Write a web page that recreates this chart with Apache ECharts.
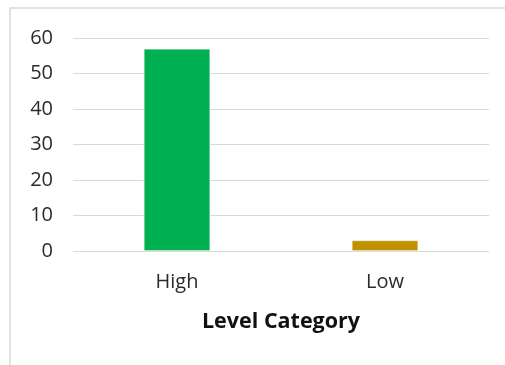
<!DOCTYPE html>
<html>
<head>
<meta charset="utf-8">
<script src="https://cdn.jsdelivr.net/npm/echarts@6/dist/echarts.min.js"></script>
<style>
  html, body { margin: 0; padding: 0; background: #fff; }
  #chart { width: 505px; height: 365px; }
</style>
</head>
<body>
<div id="chart"></div>
<script type="text/javascript">
// data
var categories = ['High', 'Low'];
var counts = [57, 3];
var barColors = ['#00B050', '#BF9000'];
var yTicks = { min: 0, max: 60, interval: 10 };

var chart = echarts.init(document.getElementById('chart'));

var options = {
  animation: false,
  backgroundColor: '#fff',
  textStyle: { fontFamily: 'Open Sans' },
  grid: { left: 73, right: 16, top: 38, bottom: 114, containLabel: false },
  graphic: [
    {
      type: 'rect',
      shape: { x: 10, y: 8, width: 700, height: 500 },
      style: { fill: 'none', stroke: '#d9d9d9', lineWidth: 1.5 },
      silent: true
    }
  ],
  xAxis: {
    type: 'category',
    data: categories,
    name: 'Level Category',
    nameLocation: 'middle',
    nameGap: 60,
    nameTextStyle: { fontSize: 21.5, fontWeight: 'bold', color: '#111', fontFamily: 'Open Sans' },
    axisLine: { show: false },
    axisTick: { show: false },
    axisLabel: { fontSize: 20, color: '#2b2b2b', margin: 21 }
  },
  yAxis: {
    type: 'value',
    min: yTicks.min,
    max: yTicks.max,
    interval: yTicks.interval,
    axisLine: { show: false },
    axisTick: { show: false },
    axisLabel: { fontSize: 20, color: '#2b2b2b', margin: 20 },
    splitLine: { lineStyle: { color: '#d9d9d9', width: 1 } }
  },
  series: [
    {
      type: 'bar',
      barWidth: '32%',
      data: counts.map(function (v, i) {
        return {
          value: v,
          itemStyle: { color: barColors[i], borderColor: 'rgba(255,255,255,0.35)', borderWidth: 1 }
        };
      })
    }
  ]
};

chart.setOption(options);
</script>
</body>
</html>
